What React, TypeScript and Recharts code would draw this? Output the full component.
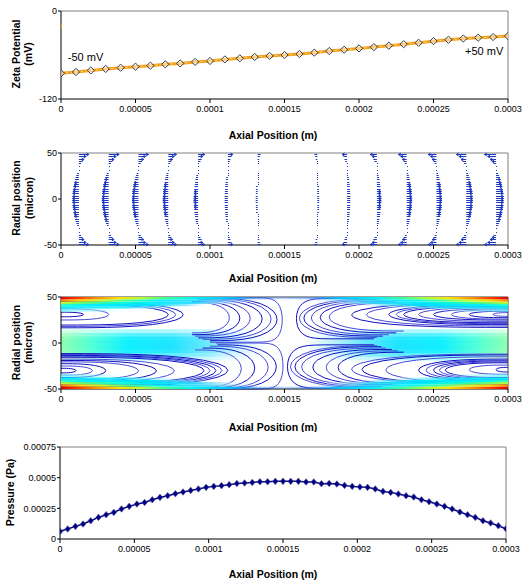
import React from 'react';
import {
  ComposedChart,
  Line,
  Scatter,
  XAxis,
  YAxis,
  ReferenceArea,
  ReferenceLine,
  ReferenceDot,
} from 'recharts';

const FONT = '"Liberation Sans", Arial, Helvetica, sans-serif';
const W = 527;
const PX_PER_UM = (W - 61 - 19) / 300;
const PX_PER_R = 92 / 100;

// axial position is kept in micrometres, tick labels show metres
const axialTicks = [0, 50, 100, 150, 200, 250, 300];
const axialTickLabels = ['0', '0.00005', '0.0001', '0.00015', '0.0002', '0.00025', '0.0003'];

// zeta potential (mV), one reading every 10 um
const zetaAxial = [0, 10, 20, 30, 40, 50, 60, 70, 80, 90, 100, 110, 120, 130, 140, 150, 160, 170, 180, 190, 200, 210, 220, 230, 240, 250, 260, 270, 280, 290, 300];
const zetaValues = [-85, -83.2, -81, -79, -77.3, -75.9, -74.5, -72.7, -71.5, -69.5, -68.2, -66, -64.5, -62.7, -61.2, -60, -58.6, -56.8, -54.6, -52.8, -51, -49.2, -47.3, -45.2, -43.3, -41.1, -39.2, -37.5, -36.4, -35.5, -34.2];
const zetaStray = [{ x: 0, y: -21 }];

// velocity arrows: column positions (um), wall arrow length (um of axial scale), radial profile
const arrowColumns = [12, 32, 52, 72, 92, 112, 132, 152, 172, 192, 212, 232, 252, 272, 292];
const arrowWall = [6.7, 7.0, 6.7, 5.6, 4.5, 3.4, 2.0, 0, -2.0, -3.4, -4.5, -5.6, -5.6, -6.7, -7.8];
// profile for |r| = 1.25, 3.75, ... 48.75 micron
const arrowProfile = [-0.65, -0.64, -0.62, -0.6, -0.57, -0.53, -0.49, -0.45, -0.39, -0.33, -0.26, -0.18, -0.1, 0, 0.1, 0.22, 0.36, 0.52, 0.72, 1.0];

// streamline loops: [arm x, tip x, top r, bottom r, squareness]
const loopsUpperLeft = [
  [0, 15, 33.5, 28.5], [0, 32, 37, 25], [0, 72, 42, 19.5], [0, 77, 43.5, 18], [0, 82, 45, 16.5],
  [88, 113, 44, 11], [88, 120, 45, 9], [90, 127, 46, 7.5], [92, 135, 47, 5.5], [95, 141, 48, 4],
  [100, 145, 48.6, 2.5], [100, 148.5, 49.3, 0.8, 0.08],
];
const loopsLowerLeft = [
  [0, 10, -27.5, -32.5], [0, 21, -25, -35], [0, 30, -22.5, -37.5], [0, 52, -20.5, -40], [0, 64, -19, -41.5],
  [0, 76, -17.5, -43], [0, 96, -15.5, -44.5], [0, 100, -14.5, -45.5], [0, 104, -13.5, -46.5], [0, 108, -12.5, -47.2],
  [0, 112, -11.5, -48], [90, 121, -7.5, -48.5], [95, 130, -5.5, -49], [100, 139, -3.5, -49.3], [105, 144.5, -2, -49.6],
  [104, 149, 0, -50, 0.08],
];
const loopsUpperRight = [
  [210, 158, 48.5, 4.5, 0.1], [212, 160, 47.5, 6], [216, 163, 46.5, 7.5], [220, 168, 45.5, 9], [225, 174, 44.5, 11],
  [230, 180, 43.5, 13], [300, 195, 44, 17], [300, 205, 43, 18.5], [300, 220, 42, 20], [300, 225, 41, 21],
  [300, 230, 40, 22], [300, 240, 38.5, 23.5], [300, 250, 37, 25], [300, 262, 36, 26], [300, 274, 34.5, 27.5],
  [300, 290, 33, 29],
];
const loopsLowerRight = [
  [210, 152, -2, -49.5, 0.1], [212, 154, -3, -48.5], [215, 157, -4, -47.5], [218, 161.5, -5.5, -46.5], [222, 169, -7, -45.5],
  [226, 178, -8.5, -44.5], [230, 186, -10, -43.5], [300, 195, -12, -45], [300, 202, -13, -44.5], [300, 218, -15, -43.5],
  [300, 240, -17.5, -41.5], [300, 245, -18.5, -40.5], [300, 250, -19.5, -39.5], [300, 254, -20.5, -38.5], [300, 258, -21.5, -37.5],
  [300, 274, -24, -34], [300, 292, -26.5, -31.5],
];

// wall colour layers of the contour plot: [r bottom, r top, gradient]
const wallBands: [number, number, string][] = [
  [34, 37.5, 'gT6'], [37.5, 40, 'gT5'], [40, 42.5, 'gT4'], [42.5, 45, 'gT3'], [45, 47.5, 'gT2'], [47.5, 50, 'gT1'],
  [-37.5, -34, 'gT6'], [-40, -37.5, 'gT5'], [-42.5, -40, 'gT4'], [-45, -42.5, 'gT3'], [-47.5, -45, 'gT2'], [-50, -47.5, 'gT1'],
];
// centre colour layers: [r from, r to, opacity]
const centreBands: [number, number, number][] = [
  [-19, 15, 0.35], [-15, 11, 0.55], [-11, 7, 0.8], [-7, 3, 1],
];

// pressure (Pa) along the channel, evenly spaced nodes
const pressureValues = [
  0.000062, 0.000082, 0.000103, 0.000122, 0.000149, 0.000176, 0.000198, 0.000217, 0.000245, 0.000266,
  0.000285, 0.000298, 0.00032, 0.000339, 0.000353, 0.000369, 0.000383, 0.000396, 0.000408, 0.000421,
  0.000429, 0.000435, 0.000443, 0.000453, 0.000457, 0.000461, 0.000467, 0.000467, 0.00047, 0.00047,
  0.00047, 0.00047, 0.000465, 0.000465, 0.000451, 0.000453, 0.000448, 0.000437, 0.000429, 0.000424,
  0.000421, 0.000408, 0.000388, 0.00038, 0.000367, 0.000353, 0.000342, 0.00032, 0.000304, 0.000285,
  0.000266, 0.000245, 0.00022, 0.000198, 0.000176, 0.000149, 0.00013, 0.000108, 0.000084,
];

// gradient stops along the channel (left half, mirrored for the right half): [offset 0..0.5, colour, opacity]
const gradientHalves: Record<string, [number, string, number?][]> = {
  gT1: [[0, '#e00000'], [0.04, '#ff4000'], [0.08, '#ff9000'], [0.13, '#ffe000'], [0.18, '#b0ff30'], [0.24, '#30ffa0'], [0.3, '#00f0ff'], [0.38, '#00c0ff'], [0.44, '#3080ff', 0.5], [0.5, '#3080ff', 0.3]],
  gT2: [[0, '#ff8000'], [0.04, '#ffd800'], [0.09, '#c0ff30'], [0.15, '#40ffa0'], [0.22, '#00f0ff'], [0.32, '#40d8ff'], [0.4, '#a0d0ff', 0.5], [0.46, '#ffffff', 0], [0.5, '#ffffff', 0]],
  gT3: [[0, '#c0ff30'], [0.05, '#60ff70'], [0.12, '#10ffd0'], [0.2, '#00ecff'], [0.3, '#30d8ff'], [0.36, '#a0e0ff', 0.7], [0.42, '#ffffff', 0], [0.5, '#ffffff', 0]],
  gT4: [[0, '#30ffc0'], [0.06, '#00f0ff'], [0.2, '#00e0ff'], [0.28, '#60e0ff', 0.7], [0.34, '#ffffff', 0], [0.5, '#ffffff', 0]],
  gT5: [[0, '#00f0ff'], [0.15, '#20e8ff', 0.9], [0.22, '#a0f0ff', 0.5], [0.28, '#ffffff', 0], [0.5, '#ffffff', 0]],
  gT6: [[0, '#60f4ff', 0.8], [0.1, '#a0f8ff', 0.4], [0.16, '#ffffff', 0], [0.5, '#ffffff', 0]],
  gC1: [[0, '#90ffb0'], [0.07, '#50ffd8'], [0.15, '#10f0ff'], [0.25, '#20e4ff'], [0.33, '#70e8ff'], [0.4, '#c0f2ff', 0.6], [0.47, '#ffffff', 0], [0.5, '#ffffff', 0]],
};

const tickStyle = { fontSize: 9, fill: '#000', fontFamily: FONT };
const titleStyle = { fontSize: 10.5, fontWeight: 700, fill: '#000', fontFamily: FONT };
const ARROW_BLUE = '#1f38c0';

const loopSteps = [1, 0.998, 0.99, 0.97, 0.93, 0.86, 0.75, 0.6, 0.4, 0.2, 0];
function loopPoints(loop: number[]) {
  const [xa, xt, rTop, rBot, p = 0.35] = loop;
  const rc = (rTop + rBot) / 2;
  const h = (rTop - rBot) / 2;
  const s = [...loopSteps, ...loopSteps.slice(0, -1).reverse().map((v) => -v)];
  return s.map((v) => ({ x: xa + (xt - xa) * Math.pow(1 - v * v, p), y: rc + h * v }));
}

function fullStops(half: [number, string, number?][]) {
  const right = half.slice().reverse().map(([o, c, a]) => [1 - o, c, a] as [number, string, number?]);
  return [...half, ...right];
}

function axialXAxis(height: number, titleY: number) {
  return (
    <XAxis
      type="number"
      dataKey="x"
      domain={[0, 300]}
      ticks={axialTicks}
      interval={0}
      allowDataOverflow
      tickFormatter={(v: number) => axialTickLabels[axialTicks.indexOf(v)] ?? String(v)}
      height={height}
      stroke="#000"
      tickSize={4}
      tickMargin={3}
      tick={tickStyle}
      label={() => (
        <text x={273} y={titleY} textAnchor="middle" dominantBaseline="central" style={titleStyle}>
          Axial Position (m)
        </text>
      )}
    />
  );
}

function yTitle(lines: string[], xs: number[], cy: number) {
  return () => (
    <g>
      {lines.map((t, i) => (
        <text key={i} x={xs[i]} y={cy} transform={`rotate(-90 ${xs[i]} ${cy})`} textAnchor="middle" dominantBaseline="central" style={titleStyle}>
          {t}
        </text>
      ))}
    </g>
  );
}

const HollowDiamond = (props: any) => {
  const { cx, cy, index } = props;
  if (cx == null || cy == null) return <g key={index} />;
  return (
    <polygon key={index} points={`${cx},${cy - 3.6} ${cx + 3.6},${cy} ${cx},${cy + 3.6} ${cx - 3.6},${cy}`} fill="rgba(255,255,255,0.45)" stroke="#3a3a3a" strokeWidth={1} />
  );
};

const SolidDiamond = (props: any) => {
  const { cx, cy, index } = props;
  if (cx == null || cy == null) return <g key={index} />;
  return (
    <polygon key={index} points={`${cx},${cy - 3.3} ${cx + 2.8},${cy} ${cx},${cy + 3.3} ${cx - 2.8},${cy}`} fill="#000080" stroke="#5a5aa8" strokeWidth={0.6} />
  );
};

const Arrow = (props: any) => {
  const { cx, payload } = props;
  const cy = Math.round(props.cy) + 0.5;
  const dx = payload.len * PX_PER_UM;
  if (Math.abs(dx) < 0.3) return <g />;
  if (Math.abs(dx) < 1.5) return <rect x={Math.round(cx)} y={cy - 0.5} width={1} height={1} fill={ARROW_BLUE} />;
  const tip = cx + dx;
  const d = Math.sign(dx);
  return (
    <g>
      <line x1={cx} y1={cy} x2={tip} y2={cy} stroke={ARROW_BLUE} strokeWidth={1} />
      {Math.abs(dx) > 4 && (
        <path d={`M${tip - d * 2.4},${cy - 1.5}L${tip},${cy}L${tip - d * 2.4},${cy + 1.5}`} fill="none" stroke={ARROW_BLUE} strokeWidth={1} />
      )}
    </g>
  );
};

// one colour layer, anchored at its top-left data corner
const BandRect = (props: any) => {
  const { cx, cy, payload } = props;
  return <rect x={cx} y={cy} width={300 * PX_PER_UM} height={payload.h * PX_PER_R} fill={`url(#${payload.id})`} />;
};

function ZetaPanel() {
  const data = zetaAxial.map((x, i) => ({ x, y: zetaValues[i] }));
  return (
    <ComposedChart width={W} height={145} margin={{ top: 11, right: 19, bottom: 0, left: 0 }}>
      {axialXAxis(46, 135)}
      <YAxis type="number" dataKey="y" domain={[-120, 0]} ticks={[-120, 0]} interval={0} width={61} stroke="#000" tickSize={3} tickMargin={1} tick={tickStyle} label={yTitle(['Zeta Potential', '(mV)'], [16, 28], 54)} />
      <ReferenceLine y={0} stroke="#808080" />
      <ReferenceLine x={300} stroke="#808080" />
      <Line data={data} dataKey="y" stroke="#f5a01a" strokeWidth={3} dot={<HollowDiamond />} isAnimationActive={false} />
      <Line data={data} dataKey="y" stroke="#ffd98a" strokeWidth={1} strokeDasharray="2 3" dot={false} isAnimationActive={false} />
      <Scatter data={zetaStray} isAnimationActive={false} shape={(p: any) => <rect x={p.cx - 1} y={p.cy - 2} width={2} height={4} fill="#f5a01a" />} />
      <ReferenceDot x={3.2} y={-62.3} r={0} fill="none" stroke="none" label={{ value: '-50 mV', position: 'right', offset: 2, fill: '#000', fontSize: 11, fontFamily: FONT }} />
      <ReferenceDot x={269.8} y={-54.5} r={0} fill="none" stroke="none" label={{ value: '+50 mV', position: 'right', offset: 2, fill: '#000', fontSize: 11, fontFamily: FONT }} />
    </ComposedChart>
  );
}

function FieldPanel() {
  const data: { x: number; y: number; len: number }[] = [];
  arrowColumns.forEach((x, k) => {
    for (let j = 0; j < 40; j++) {
      const r = -48.75 + 2.5 * j;
      const idx = Math.round((Math.abs(r) - 1.25) / 2.5);
      data.push({ x, y: r, len: arrowWall[k] * arrowProfile[idx] });
    }
  });
  return (
    <ComposedChart width={W} height={140} margin={{ top: 8, right: 19, bottom: 0, left: 0 }}>
      {axialXAxis(40, 133)}
      <YAxis type="number" dataKey="y" domain={[-50, 50]} ticks={[-50, 0, 50]} interval={0} width={61} stroke="#000" tickSize={3} tickMargin={1} tick={tickStyle} label={yTitle(['Radial position', '(micron)'], [16, 29], 53)} />
      <ReferenceLine y={50} stroke="#808080" />
      <ReferenceLine x={300} stroke="#808080" />
      <Scatter data={data} shape={<Arrow />} isAnimationActive={false} />
    </ComposedChart>
  );
}

function StreamPanel() {
  const loops = [...loopsUpperLeft, ...loopsLowerLeft, ...loopsUpperRight, ...loopsLowerRight];
  const bandData = wallBands.map(([rBot, rTop, id]) => ({ x: 0, y: rTop, h: rTop - rBot, id }));
  return (
    <ComposedChart width={W} height={147} margin={{ top: 12, right: 19, bottom: 0, left: 0 }}>
      {axialXAxis(43, 141.7)}
      <YAxis type="number" dataKey="y" domain={[-50, 50]} ticks={[-50, 0, 50]} interval={0} width={61} stroke="#000" tickSize={3} tickMargin={1} tick={tickStyle} label={yTitle(['Radial position', '(micron)'], [16, 28], 57.5)} />
      {centreBands.map(([y1, y2, op], i) => (
        <ReferenceArea key={`c${i}`} x1={0} x2={300} y1={y1} y2={y2} fill="url(#gC1)" fillOpacity={op} stroke="none" />
      ))}
      <Scatter data={bandData} shape={<BandRect />} isAnimationActive={false} />
      {loops.map((loop, i) => (
        <Line key={`l${i}`} data={loopPoints(loop)} dataKey="y" type="linear" stroke={i % 2 ? '#4a4ad8' : '#1010c0'} strokeWidth={1} dot={false} isAnimationActive={false} />
      ))}
      <ReferenceLine y={50} stroke="#404040" />
      <ReferenceLine x={300} stroke="#404040" />
    </ComposedChart>
  );
}

function PressurePanel() {
  const data = pressureValues.map((y, i) => ({ x: (i * 300) / (pressureValues.length - 1), y }));
  return (
    <ComposedChart width={W} height={151} margin={{ top: 15, right: 21, bottom: 0, left: 0 }}>
      {axialXAxis(44, 142)}
      <YAxis type="number" dataKey="y" domain={[0, 0.00075]} ticks={[0, 0.00025, 0.0005, 0.00075]} interval={0} width={60} stroke="#000" tickSize={3} tickMargin={1} tick={tickStyle} tickFormatter={(v: number) => String(v)} label={yTitle(['Pressure (Pa)'], [10], 60.5)} />
      <ReferenceLine y={0.00075} stroke="#808080" />
      <ReferenceLine x={300} stroke="#808080" />
      <Line data={data} dataKey="y" stroke="#000080" strokeWidth={1.5} dot={<SolidDiamond />} isAnimationActive={false} />
    </ComposedChart>
  );
}

export default function App() {
  return (
    <div style={{ position: 'absolute', left: 0, top: 0, width: W, height: 583, background: '#fff', fontFamily: FONT }}>
      <svg width={0} height={0} style={{ position: 'absolute' }}>
        <defs>
          {Object.entries(gradientHalves).map(([id, half]) => (
            <linearGradient key={id} id={id} x1="0" y1="0" x2="1" y2="0">
              {fullStops(half).map(([o, c, a], i) => (
                <stop key={i} offset={o} stopColor={c} stopOpacity={a ?? 1} />
              ))}
            </linearGradient>
          ))}
        </defs>
      </svg>
      <div style={{ position: 'absolute', left: 0, top: 0 }}>
        <ZetaPanel />
      </div>
      <div style={{ position: 'absolute', left: 0, top: 145 }}>
        <FieldPanel />
      </div>
      <div style={{ position: 'absolute', left: 0, top: 285 }}>
        <StreamPanel />
      </div>
      <div style={{ position: 'absolute', left: 0, top: 432 }}>
        <PressurePanel />
      </div>
    </div>
  );
}
